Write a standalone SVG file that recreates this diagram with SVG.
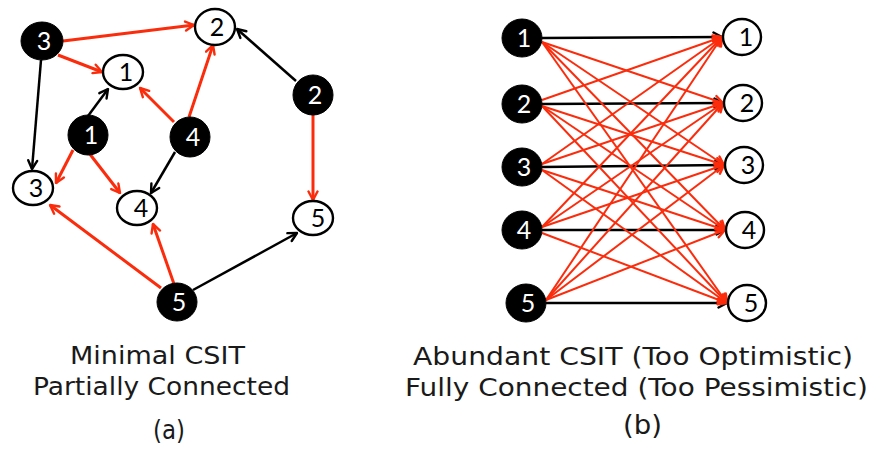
<svg xmlns="http://www.w3.org/2000/svg" width="871" height="449" viewBox="0 0 871 449">
<style>
.bk{fill:#000;stroke:#000;stroke-width:1}
.wt{fill:#fff;stroke:#000;stroke-width:2.4}
.nb{fill:#fff;font-family:Lato,"Liberation Sans",sans-serif;font-size:25px;text-anchor:middle}
.nw{fill:#000;font-family:Lato,"Liberation Sans",sans-serif;font-size:25px;text-anchor:middle}
.er{stroke:#fb2c0c;stroke-width:3;fill:none;marker-end:url(#ar)}
.ek{stroke:#000;stroke-width:2.5;fill:none;marker-end:url(#ak)}
.er2{stroke:#fb2c0c;stroke-width:2;fill:none;marker-end:url(#ar)}
.ek2{stroke:#000;stroke-width:2.6;fill:none;marker-end:url(#ak)}
.cap{font-family:"DejaVu Sans",sans-serif;font-size:24px;fill:#1a1a1a}
.lbl{font-size:26px}
</style>
<defs>
<marker id="ar" viewBox="0 0 12 12" refX="10.5" refY="6" markerWidth="12" markerHeight="12" markerUnits="userSpaceOnUse" orient="auto">
<path d="M2,1.5 L10.5,6 L2,10.5" fill="none" stroke="#fb2c0c" stroke-width="2.4" stroke-linecap="round" stroke-linejoin="round"/>
</marker>
<marker id="ak" viewBox="0 0 12 12" refX="10.5" refY="6" markerWidth="12" markerHeight="12" markerUnits="userSpaceOnUse" orient="auto">
<path d="M2,1.5 L10.5,6 L2,10.5" fill="none" stroke="#000" stroke-width="2.4" stroke-linecap="round" stroke-linejoin="round"/>
</marker>
</defs>
<rect width="871" height="449" fill="#fff"/>

<g id="edges-a">
<line class="er" x1="63" y1="41" x2="194" y2="25"/>
<line class="er" x1="58" y1="55" x2="102" y2="72"/>
<line class="ek" x1="41" y1="60" x2="32" y2="169"/>
<line class="ek" x1="88" y1="116" x2="108" y2="89"/>
<line class="er" x1="73" y1="150" x2="56" y2="183"/>
<line class="er" x1="89" y1="153" x2="120" y2="193"/>
<line class="er" x1="174" y1="122" x2="140" y2="88"/>
<line class="er" x1="189" y1="117" x2="213" y2="45"/>
<line class="ek" x1="175" y1="152" x2="151" y2="193"/>
<line class="ek" x1="296" y1="81" x2="237" y2="29"/>
<line class="er" x1="313" y1="114" x2="313" y2="200"/>
<line class="er" x1="161" y1="288" x2="50" y2="205"/>
<line class="er" x1="174" y1="284" x2="153" y2="224"/>
<line class="ek" x1="193" y1="290" x2="297" y2="233"/>
</g>

<g id="edges-b">
<line class="ek2" x1="542" y1="38" x2="722" y2="37"/>
<line class="ek2" x1="542" y1="104" x2="723" y2="103"/>
<line class="ek2" x1="542" y1="167" x2="724" y2="165"/>
<line class="ek2" x1="542" y1="230" x2="725" y2="230"/>
<line class="ek2" x1="546" y1="303" x2="727" y2="303"/>
<line class="er2" x1="542" y1="42" x2="723" y2="103"/>
<line class="er2" x1="542" y1="42" x2="724" y2="165"/>
<line class="er2" x1="542" y1="42" x2="725" y2="230"/>
<line class="er2" x1="542" y1="42" x2="727" y2="303"/>
<line class="er2" x1="542" y1="100" x2="722" y2="37"/>
<line class="er2" x1="542" y1="106" x2="724" y2="165"/>
<line class="er2" x1="542" y1="106" x2="725" y2="230"/>
<line class="er2" x1="542" y1="106" x2="727" y2="303"/>
<line class="er2" x1="542" y1="164" x2="722" y2="37"/>
<line class="er2" x1="542" y1="164" x2="723" y2="103"/>
<line class="er2" x1="542" y1="170" x2="725" y2="230"/>
<line class="er2" x1="542" y1="170" x2="727" y2="303"/>
<line class="er2" x1="542" y1="227" x2="722" y2="37"/>
<line class="er2" x1="542" y1="227" x2="723" y2="103"/>
<line class="er2" x1="542" y1="227" x2="724" y2="165"/>
<line class="er2" x1="542" y1="233" x2="727" y2="303"/>
<line class="er2" x1="546" y1="300" x2="722" y2="37"/>
<line class="er2" x1="546" y1="300" x2="723" y2="103"/>
<line class="er2" x1="546" y1="300" x2="724" y2="165"/>
<line class="er2" x1="546" y1="300" x2="725" y2="230"/>
</g>

<g id="a-tx3"><ellipse class="bk" cx="42" cy="41" rx="21" ry="19"/><text class="nb" x="44" y="50">3</text></g>
<g id="a-rx2"><ellipse class="wt" cx="215" cy="27" rx="20" ry="18"/><text class="nw" x="217" y="36">2</text></g>
<g id="a-rx1"><ellipse class="wt" cx="123" cy="72" rx="20" ry="17"/><text class="nw" x="126" y="81">1</text></g>
<g id="a-tx2"><ellipse class="bk" cx="313" cy="95" rx="20" ry="20"/><text class="nb" x="315" y="104">2</text></g>
<g id="a-tx1"><ellipse class="bk" cx="88" cy="135" rx="20" ry="20"/><text class="nb" x="91" y="144">1</text></g>
<g id="a-tx4"><ellipse class="bk" cx="190" cy="137" rx="20" ry="20"/><text class="nb" x="193" y="146">4</text></g>
<g id="a-rx3"><ellipse class="wt" cx="33" cy="188" rx="20" ry="17"/><text class="nw" x="36" y="197">3</text></g>
<g id="a-rx4"><ellipse class="wt" cx="137" cy="208" rx="20" ry="17"/><text class="nw" x="141" y="217">4</text></g>
<g id="a-rx5"><ellipse class="wt" cx="313" cy="218" rx="20" ry="17"/><text class="nw" x="318" y="227">5</text></g>
<g id="a-tx5"><ellipse class="bk" cx="177" cy="302" rx="20" ry="19"/><text class="nb" x="179" y="311">5</text></g>

<g id="b-tx1"><ellipse class="bk" cx="522" cy="38" rx="20" ry="19"/><text class="nb" x="524" y="47">1</text></g>
<g id="b-tx2"><ellipse class="bk" cx="522" cy="104" rx="20" ry="19"/><text class="nb" x="524" y="113">2</text></g>
<g id="b-tx3"><ellipse class="bk" cx="522" cy="167" rx="20" ry="19"/><text class="nb" x="524" y="176">3</text></g>
<g id="b-tx4"><ellipse class="bk" cx="522" cy="230" rx="20" ry="19"/><text class="nb" x="524" y="239">4</text></g>
<g id="b-tx5"><ellipse class="bk" cx="526" cy="303" rx="20" ry="19"/><text class="nb" x="528" y="312">5</text></g>
<g id="b-rx1"><ellipse class="wt" cx="742" cy="37" rx="19" ry="18"/><text class="nw" x="746" y="46">1</text></g>
<g id="b-rx2"><ellipse class="wt" cx="743" cy="103" rx="19" ry="18"/><text class="nw" x="747" y="112">2</text></g>
<g id="b-rx3"><ellipse class="wt" cx="744" cy="165" rx="19" ry="18"/><text class="nw" x="748" y="174">3</text></g>
<g id="b-rx4"><ellipse class="wt" cx="745" cy="230" rx="19" ry="18"/><text class="nw" x="749" y="239">4</text></g>
<g id="b-rx5"><ellipse class="wt" cx="747" cy="303" rx="19" ry="18"/><text class="nw" x="751" y="312">5</text></g>

<g id="captions">
<text class="cap" x="70" y="364" textLength="175" lengthAdjust="spacingAndGlyphs">Minimal CSIT</text>
<text class="cap" x="33" y="395" textLength="257" lengthAdjust="spacingAndGlyphs">Partially Connected</text>
<text class="cap lbl" x="153" y="439" textLength="32" lengthAdjust="spacingAndGlyphs">(a)</text>
<text class="cap" x="413" y="365" textLength="440" lengthAdjust="spacingAndGlyphs">Abundant CSIT (Too Optimistic)</text>
<text class="cap" x="405" y="396" textLength="463" lengthAdjust="spacingAndGlyphs">Fully Connected (Too Pessimistic)</text>
<text class="cap lbl" x="623" y="434" textLength="39" lengthAdjust="spacingAndGlyphs">(b)</text>
</g>
</svg>
